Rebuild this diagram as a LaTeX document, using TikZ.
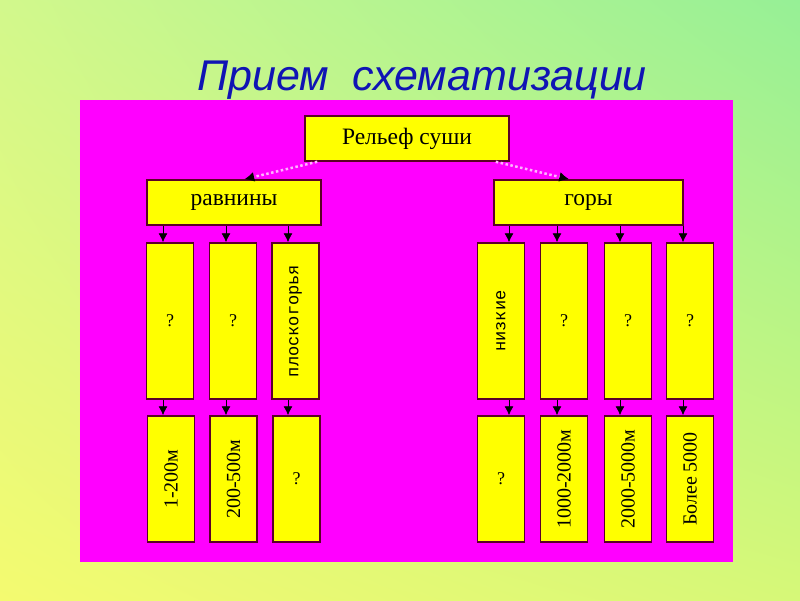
\documentclass[tikz,border=0pt]{standalone}
\usepackage{fontspec}
\usepackage{graphicx}
\setmainfont{Liberation Serif}
\newfontfamily\titlefont{Liberation Sans}
\newfontfamily\monofont{Liberation Mono}
\usetikzlibrary{arrows.meta,shadings}
\definecolor{bgTL}{RGB}{210,248,140}
\definecolor{bgTR}{RGB}{150,240,150}
\definecolor{bgBL}{RGB}{244,250,112}
\definecolor{bgBR}{RGB}{214,248,120}
\definecolor{panel}{RGB}{255,0,255}
\definecolor{boxfill}{RGB}{255,255,0}
\definecolor{boxline}{RGB}{90,0,40}
\definecolor{titleblue}{RGB}{16,20,180}
\tikzset{
  box/.style={draw=boxline, fill=boxfill, line width=1.5pt, inner sep=0pt, minimum width=47, align=center},
  wide/.style={box, minimum height=45, font=\fontsize{23.5}{26}\selectfont},
  tall/.style={box, minimum height=156, font=\fontsize{18}{20}\selectfont},
  low/.style={box, minimum height=126, font=\fontsize{20}{22}\selectfont},
  monotext/.style={font=\monofont\fontsize{17}{19}\selectfont},
  arr/.style={line width=0.8pt, -{Latex[length=9pt,width=9pt]}},
  darr/.style={draw=white!70!panel, line width=2.5pt, dash pattern=on 2.5pt off 2.5pt, -{Latex[black,length=10pt,width=10pt]}},
}
\begin{document}
\begin{tikzpicture}[x=1pt,y=-1pt]
\useasboundingbox (0,0) rectangle (800,600);
\shade[upper left=bgTL, upper right=bgTR, lower left=bgBL, lower right=bgBR] (0,0) rectangle (800,600);
\node[text=titleblue, font=\titlefont\itshape\fontsize{43}{47}\selectfont, anchor=base] (title) at (422,90) {Прием\ \ схематизации};
\fill[panel] (80,100) rectangle (733,562);
% top levels
\node[wide, minimum width=204] (top) at (407,138.5) {Рельеф суши};
\node[wide, minimum width=174] (rav) at (234,202.5) {равнины};
\node[wide, minimum width=189] (gor) at (588.5,202.5) {горы};
% middle row
\node[tall] (m1) at (170,321) {?};
\node[tall] (m2) at (233,321) {?};
\node[tall, monotext] (m3) at (295.5,321) {\rotatebox{90}{плоскогорья}};
\node[tall, monotext] (m4) at (501,321) {\rotatebox{90}{низкие}};
\node[tall] (m5) at (564,321) {?};
\node[tall] (m6) at (628,321) {?};
\node[tall] (m7) at (690,321) {?};
% bottom row
\node[low] (b1) at (171,479) {\rotatebox{90}{1-200м}};
\node[low] (b2) at (233.5,479) {\rotatebox{90}{200-500м}};
\node[low, font=\fontsize{18}{20}\selectfont] (b3) at (296.5,479) {?};
\node[low, font=\fontsize{18}{20}\selectfont] (b4) at (501,479) {?};
\node[low] (b5) at (564,479) {\rotatebox{90}{1000-2000м}};
\node[low] (b6) at (628,479) {\rotatebox{90}{2000-5000м}};
\node[low] (b7) at (690,479) {\rotatebox{90}{Более 5000}};
% dashed arrows from top
\draw[darr] ([xshift=13]top.south west) -- ([xshift=98]rav.north west);
\draw[darr] ([xshift=-14]top.south east) -- ([xshift=76]gor.north west);
% arrows to middle row
\draw[arr] ([xshift=-7]m1.north |- rav.south) -- ([xshift=-7]m1.north);
\draw[arr] ([xshift=-7]m2.north |- rav.south) -- ([xshift=-7]m2.north);
\draw[arr] ([xshift=-7.5]m3.north |- rav.south) -- ([xshift=-7.5]m3.north);
\draw[arr] ([xshift=8]m4.north |- gor.south) -- ([xshift=8]m4.north);
\draw[arr] ([xshift=-7]m5.north |- gor.south) -- ([xshift=-7]m5.north);
\draw[arr] ([xshift=-8]m6.north |- gor.south) -- ([xshift=-8]m6.north);
\draw[arr] ([xshift=-7]m7.north |- gor.south) -- ([xshift=-7]m7.north);
% arrows to bottom row
\draw[arr] ([xshift=-7]m1.south) -- ([xshift=-7]m1.south |- b1.north);
\draw[arr] ([xshift=-7]m2.south) -- ([xshift=-7]m2.south |- b2.north);
\draw[arr] ([xshift=-7.5]m3.south) -- ([xshift=-7.5]m3.south |- b3.north);
\draw[arr] ([xshift=8]m4.south) -- ([xshift=8]m4.south |- b4.north);
\draw[arr] ([xshift=-7]m5.south) -- ([xshift=-7]m5.south |- b5.north);
\draw[arr] ([xshift=-8]m6.south) -- ([xshift=-8]m6.south |- b6.north);
\draw[arr] ([xshift=-7]m7.south) -- ([xshift=-7]m7.south |- b7.north);
\end{tikzpicture}
\end{document}
